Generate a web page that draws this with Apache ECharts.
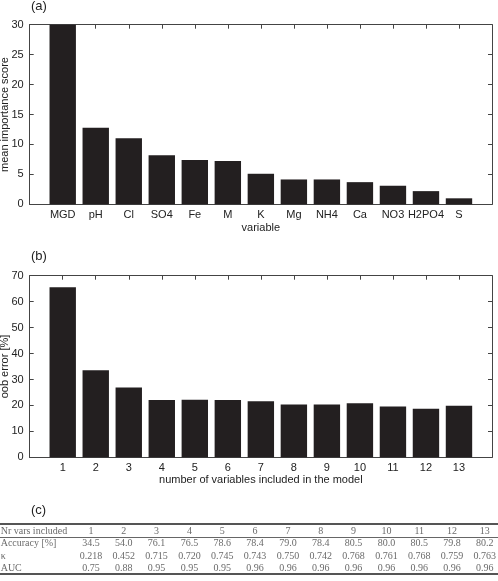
<!DOCTYPE html>
<html>
<head>
<meta charset="utf-8">
<script src="https://cdn.jsdelivr.net/npm/echarts@6/dist/echarts.min.js"></script>
<style>html,body{margin:0;padding:0;background:#fff}#c{width:498px;height:581px}</style>
</head>
<body>
<div id="c"></div>
<script>
// ---- data ----
const varNames = ['MGD', 'pH', 'Cl', 'SO4', 'Fe', 'M', 'K', 'Mg', 'NH4', 'Ca', 'NO3', 'H2PO4', 'S'];
const importance = [30, 12.8, 11.05, 8.2, 7.4, 7.25, 5.1, 4.15, 4.15, 3.7, 3.1, 2.2, 1.0];
const nVars = ['1', '2', '3', '4', '5', '6', '7', '8', '9', '10', '11', '12', '13'];
const oobError = [65.5, 33.6, 26.9, 22.1, 22.2, 22.1, 21.6, 20.4, 20.4, 20.8, 19.6, 18.7, 19.9];
const accuracy = [34.5, 54.0, 76.1, 76.5, 78.6, 78.4, 79.0, 78.4, 80.5, 80.0, 80.5, 79.8, 80.2];
const kappa = [0.218, 0.452, 0.715, 0.720, 0.745, 0.743, 0.750, 0.742, 0.768, 0.761, 0.768, 0.759, 0.763];
const auc = [0.75, 0.88, 0.95, 0.95, 0.95, 0.96, 0.96, 0.96, 0.96, 0.96, 0.96, 0.96, 0.96];
const rowNames = ['Nr vars included', 'Accuracy [%]', 'κ', 'AUC'];

// ---- styles ----
const FONT = 'Liberation Sans';
const SERIF = 'Liberation Serif';
const AX = '#444';
const BAR = '#231f20';
const TXT = '#222';

function xAxes(gi, labels, name, nameGap) {
  const common = {
    gridIndex: gi, type: 'value', min: 0, max: 14, interval: 1,
    splitLine: {show: false},
    axisLine: {show: true, onZero: false, lineStyle: {color: AX, width: 1}},
    axisTick: {show: true, inside: true, length: 4, lineStyle: {color: AX}}
  };
  return [
    Object.assign({}, common, {
      position: 'bottom',
      name: name, nameLocation: 'middle', nameGap: nameGap, nameMoveOverlap: false,
      nameTextStyle: {fontFamily: FONT, fontSize: 11, color: TXT},
      axisLabel: {margin: 5, fontFamily: FONT, fontSize: 11, color: TXT,
        formatter: v => (v >= 1 && v <= labels.length) ? labels[v - 1] : ''}
    }),
    Object.assign({}, common, {position: 'top', axisLabel: {show: false}})
  ];
}
function yAxes(gi, max, interval, name) {
  const common = {
    gridIndex: gi, type: 'value', min: 0, max: max, interval: interval,
    splitLine: {show: false},
    axisLine: {show: true, onZero: false, lineStyle: {color: AX, width: 1}},
    axisTick: {show: true, inside: true, length: 4, lineStyle: {color: AX}}
  };
  return [
    Object.assign({}, common, {
      position: 'left',
      name: name, nameLocation: 'middle', nameGap: 19, nameMoveOverlap: false,
      nameTextStyle: {fontFamily: FONT, fontSize: 11, color: TXT},
      axisLabel: {margin: 6, fontFamily: FONT, fontSize: 11, color: TXT}
    }),
    Object.assign({}, common, {position: 'right', axisLabel: {show: false}})
  ];
}

// table: column x positions via value axis, rows via value axis
const tableData = [];
const rowsVals = [nVars, accuracy.map(v => v.toFixed(1)), kappa.map(v => v.toFixed(3)), auc.map(v => v.toFixed(2))];
rowsVals.forEach((row, r) => {
  row.forEach((t, i) => tableData.push({value: [i + 1, r], label: {formatter: t}}));
});
const TMIN = -1.77, TMAX = 13.4;
const rowLabelData = rowNames.map((n, r) => ({value: [TMIN + 0.02, r], label: {formatter: n}}));

const chart = echarts.init(document.getElementById('c'), null, {renderer: 'canvas'});
const titleStyle = {fontFamily: FONT, fontSize: 13, fontWeight: 'normal', color: TXT};
chart.setOption({
  animation: false,
  backgroundColor: '#fff',
  title: [
    {text: '(a)', left: 31, top: 0, padding: 0, textStyle: titleStyle},
    {text: '(b)', left: 31, top: 250, padding: 0, textStyle: titleStyle},
    {text: '(c)', left: 31, top: 504, padding: 0, textStyle: titleStyle}
  ],
  grid: [
    {left: 29.7, top: 24.7, width: 462.3, height: 179.6, containLabel: false, outerBoundsMode: 'none'},
    {left: 29.7, top: 275.7, width: 462.3, height: 181.6, containLabel: false, outerBoundsMode: 'none'},
    {left: 0, top: 525.35, width: 498, height: 49.2, containLabel: false, outerBoundsMode: 'none'}
  ],
  xAxis: [
    ...xAxes(0, varNames, 'variable', 18),
    ...xAxes(1, nVars, 'number of variables included in the model', 17),
    {gridIndex: 2, type: 'value', min: TMIN, max: TMAX, show: false}
  ],
  yAxis: [
    ...yAxes(0, 30, 5, 'mean importance score'),
    ...yAxes(1, 70, 10, 'oob error [%]'),
    {gridIndex: 2, type: 'value', min: -0.5, max: 3.5, inverse: true, show: false}
  ],
  series: [
    {type: 'bar', xAxisIndex: 0, yAxisIndex: 0, barWidth: 26.4,
      itemStyle: {color: BAR}, data: importance.map((v, i) => [i + 1, v])},
    {type: 'bar', xAxisIndex: 2, yAxisIndex: 2, barWidth: 26.4,
      itemStyle: {color: BAR}, data: oobError.map((v, i) => [i + 1, v])},
    {type: 'scatter', xAxisIndex: 4, yAxisIndex: 4, symbolSize: 0, silent: true,
      label: {show: true, position: 'inside', fontFamily: SERIF, fontSize: 10, color: '#444'},
      data: tableData},
    {type: 'scatter', xAxisIndex: 4, yAxisIndex: 4, symbolSize: 0, silent: true,
      label: {show: true, position: 'right', distance: 0, align: 'left', fontFamily: SERIF, fontSize: 10, color: '#444'},
      data: rowLabelData}
  ],
  graphic: [
    {type: 'line', shape: {x1: 0, y1: 524, x2: 498, y2: 524}, style: {stroke: '#555', lineWidth: 2}},
    {type: 'line', shape: {x1: 0, y1: 537.5, x2: 498, y2: 537.5}, style: {stroke: '#666', lineWidth: 1}},
    {type: 'line', shape: {x1: 0, y1: 574, x2: 498, y2: 574}, style: {stroke: '#555', lineWidth: 2}}
  ]
});
</script>
</body>
</html>
